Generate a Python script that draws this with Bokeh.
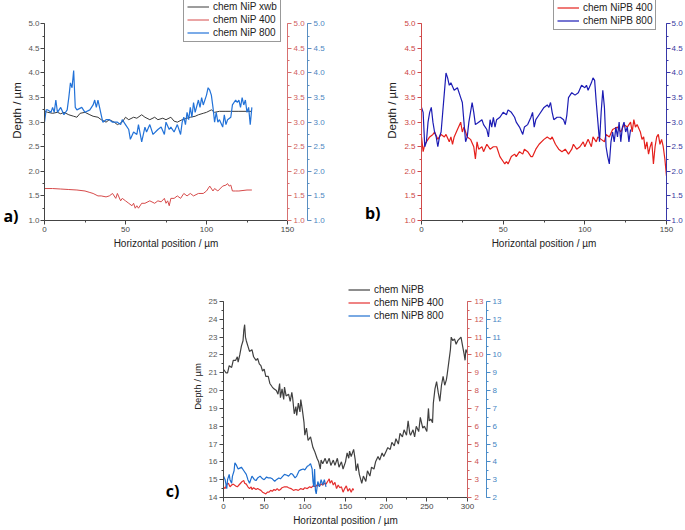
from bokeh.plotting import figure
from bokeh.models import (Range1d, LinearAxis, SingleIntervalTicker, FixedTicker, PrintfTickFormatter,
                          Legend, LegendItem, Spacer)
from bokeh.layouts import row, column
from bokeh.embed import file_html
from bokeh.resources import INLINE

FONT = "Liberation Sans"

# ---- panel a: chem NiP ----
a_xwb_x = [0, 2, 5, 8, 10, 12, 15, 18, 20, 22, 25, 28, 30, 33, 35, 38, 40, 43, 45, 48, 50, 52, 55, 57, 60,
           62, 65, 68, 70, 73, 75, 78, 80, 82, 85, 88, 90, 93, 95, 98, 100, 103, 105, 108, 112, 115, 120, 125, 128]
a_xwb_y = [3.22, 3.2, 3.18, 3.2, 3.17, 3.2, 3.15, 3.12, 3.1, 3.18, 3.2, 3.15, 3.12, 3.1, 3.05, 3.0, 3.05, 3.0,
           2.95, 3.0, 3.1, 3.05, 3.1, 3.08, 3.15, 3.1, 3.05, 3.1, 3.05, 3.08, 3.05, 3.1, 3.02, 3.0, 3.05, 3.08,
           3.1, 3.12, 3.15, 3.18, 3.2, 3.25, 3.2, 3.22, 3.22, 3.22, 3.22, 3.22, 3.22]
a_400_x = [0, 5, 10, 15, 20, 25, 28, 30, 33, 35, 38, 40, 42, 44, 45, 47, 48, 50, 52, 54, 55, 56, 57, 58, 60,
           62, 65, 68, 70, 72, 74, 75, 76, 77, 78, 80, 82, 84, 86, 88, 90, 92, 95, 98, 100, 102, 104, 105, 107,
           110, 112, 113, 114, 115, 116, 118, 120, 125, 128]
a_400_y = [1.65, 1.65, 1.64, 1.63, 1.62, 1.6, 1.57, 1.55, 1.5, 1.5, 1.48, 1.5, 1.55, 1.45, 1.55, 1.4, 1.45,
           1.4, 1.35, 1.3, 1.35, 1.25, 1.3, 1.25, 1.35, 1.35, 1.4, 1.35, 1.4, 1.38, 1.45, 1.35, 1.4, 1.3, 1.45,
           1.45, 1.5, 1.45, 1.55, 1.5, 1.55, 1.5, 1.55, 1.55, 1.6, 1.7, 1.6, 1.65, 1.6, 1.7, 1.72, 1.75, 1.7,
           1.72, 1.6, 1.6, 1.6, 1.62, 1.62]
a_800_x = [0, 1, 2, 4, 5, 6, 7, 8, 10, 12, 14, 15, 16, 17, 18, 19, 20, 23, 25, 28, 30, 31, 32, 33, 34, 35, 36,
           38, 40, 42, 45, 47, 48, 50, 52, 53, 55, 57, 58, 60, 62, 63, 65, 67, 70, 72, 74, 75, 77, 78, 80, 82,
           84, 85, 86, 87, 88, 89, 90, 91, 92, 93, 95, 96, 97, 98, 100, 101, 102, 103, 104, 105, 106, 107, 108,
           110, 111, 112, 113, 115, 116, 118, 119, 120, 121, 122, 123, 124, 125, 126, 127, 128]
a_800_y = [3.0, 3.25, 3.25, 3.2, 3.3, 3.2, 3.45, 3.2, 3.3, 3.15, 3.25, 3.5, 3.8, 3.7, 4.05, 3.3, 3.25, 3.3,
           3.2, 3.25, 3.35, 3.45, 3.3, 3.45, 3.3, 3.15, 3.0, 3.05, 3.05, 3.0, 3.0, 2.95, 3.05, 2.95, 2.85, 2.65,
           2.8, 2.75, 2.95, 2.6, 2.9, 2.8, 2.95, 2.75, 2.85, 2.9, 2.75, 3.0, 2.85, 2.9, 2.8, 2.95, 2.75, 3.0,
           3.1, 2.95, 3.2, 3.05, 3.3, 3.1, 3.4, 3.2, 3.45, 3.3, 3.5, 3.35, 3.55, 3.7, 3.65, 3.55, 3.3, 3.0, 3.2,
           3.0, 3.05, 2.9, 3.15, 2.95, 3.05, 3.1, 3.35, 3.45, 3.4, 3.45, 3.3, 3.5, 3.35, 3.45, 3.2, 3.3, 2.95, 3.3]

# ---- panel b: chem NiPB ----
b_400_x = [0, 1, 2, 3, 5, 7, 8, 10, 12, 14, 15, 17, 18, 19, 20, 22, 24, 25, 26, 27, 28, 30, 32, 33, 34, 35,
           37, 38, 40, 42, 44, 46, 48, 50, 51, 52, 53, 55, 57, 58, 60, 62, 63, 65, 67, 68, 70, 72, 75, 77, 79,
           80, 82, 84, 86, 88, 90, 92, 93, 95, 97, 99, 100, 102, 104, 105, 107, 108, 110, 112, 113, 115, 117,
           120, 122, 124, 126, 128, 129, 130, 131, 132, 134, 135, 136, 137, 138, 139, 140, 141, 142, 143, 144,
           145, 146, 147, 148, 149, 150]
b_400_y = [2.7, 2.4, 2.55, 2.6, 2.7, 2.75, 2.8, 2.65, 2.75, 2.7, 2.75, 2.6, 2.7, 2.55, 2.7, 2.85, 3.0, 2.8,
           2.9, 2.8, 2.7, 2.65, 2.5, 2.25, 2.6, 2.45, 2.5, 2.4, 2.55, 2.45, 2.5, 2.5, 2.3, 2.2, 2.15, 2.2, 2.15,
           2.3, 2.35, 2.3, 2.4, 2.35, 2.45, 2.4, 2.3, 2.3, 2.45, 2.55, 2.65, 2.7, 2.65, 2.7, 2.55, 2.45, 2.4,
           2.45, 2.35, 2.45, 2.55, 2.45, 2.5, 2.6, 2.5, 2.65, 2.5, 2.7, 2.6, 2.7, 2.65, 2.6, 2.75, 2.7, 2.85,
           2.9, 2.8, 2.95, 2.9, 3.0, 2.8, 3.05, 2.9, 2.95, 2.8, 2.65, 2.7, 2.45, 2.6, 2.35, 2.5, 2.6, 2.15, 2.5,
           2.7, 2.75, 2.55, 2.65, 2.5, 2.25, 1.9]
b_800_x = [0, 1, 2, 3, 4, 5, 6, 7, 8, 9, 10, 11, 12, 13, 14, 15, 16, 17, 18, 20, 22, 24, 25, 26, 27, 28, 29,
           30, 31, 32, 33, 35, 37, 38, 40, 41, 42, 43, 44, 45, 46, 48, 50, 52, 53, 55, 57, 58, 60, 62, 63, 65,
           67, 68, 69, 70, 72, 75, 77, 78, 79, 80, 81, 83, 85, 87, 88, 89, 90, 92, 94, 96, 98, 100, 101, 102,
           104, 105, 106, 107, 108, 109, 110, 111, 112, 113, 114, 115, 116, 117, 118, 119, 120, 121, 122, 123,
           124, 125, 126, 127, 128]
b_800_y = [3.3, 3.2, 2.5, 2.6, 3.0, 3.2, 3.3, 3.0, 2.8, 2.7, 2.5, 2.7, 2.8, 3.2, 3.6, 4.0, 3.9, 3.75, 3.8,
           3.65, 3.7, 3.5, 3.4, 3.0, 2.6, 2.7, 3.0, 3.2, 3.4, 3.2, 2.95, 3.0, 3.05, 2.95, 2.85, 2.7, 3.05, 2.9,
           3.1, 2.9, 3.05, 3.1, 3.2, 3.15, 3.25, 3.2, 3.1, 3.0, 2.9, 2.75, 2.9, 2.95, 3.1, 3.2, 2.9, 3.05, 3.15,
           3.3, 3.35, 3.3, 3.4, 3.2, 3.05, 3.1, 3.1, 3.05, 2.95, 3.15, 3.5, 3.6, 3.55, 3.6, 3.75, 3.7, 3.75, 3.65,
           3.8, 3.9, 3.85, 3.4, 3.0, 2.6, 3.2, 3.65, 3.3, 2.5, 2.3, 2.15, 2.6, 2.8, 2.6, 2.9, 2.7, 3.0, 2.6, 2.9,
           3.0, 2.8, 2.9, 2.6, 2.85]

# ---- panel c: chem NiPB (left axis) with 400 / 800 (right axes) ----
c_nipb_x = [0, 3, 5, 7, 10, 12, 15, 17, 18, 20, 22, 24, 25, 26, 27, 28, 30, 32, 35, 37, 40, 42, 44, 46, 48,
            50, 52, 55, 57, 60, 62, 65, 67, 69, 70, 72, 74, 75, 77, 80, 82, 84, 85, 87, 89, 90, 92, 94, 95, 97,
            99, 100, 102, 104, 107, 109, 110, 112, 115, 117, 119, 120, 122, 125, 127, 130, 132, 135, 137, 140,
            142, 145, 147, 150, 152, 154, 155, 157, 160, 162, 163, 165, 167, 170, 172, 175, 177, 180, 182, 185,
            187, 190, 192, 195, 197, 200, 202, 205, 207, 210, 212, 215, 217, 220, 222, 225, 227, 229, 230, 233,
            235, 237, 240, 242, 245, 247, 250, 252, 253, 255, 257, 258, 260, 262, 264, 266, 268, 270, 272, 274,
            275, 277, 279, 280, 282, 284, 286, 288, 290, 292, 294, 296, 297, 298, 300]
c_nipb_y = [21.2, 21.0, 21.0, 21.4, 21.3, 21.7, 21.7, 21.9, 21.6, 22.0, 22.5, 22.8, 23.4, 23.7, 23.0, 22.8,
            22.5, 22.2, 22.3, 21.9, 21.7, 21.8, 21.5, 21.4, 21.1, 21.2, 20.8, 20.8, 20.4, 20.2, 20.1, 20.0, 19.8,
            20.4, 19.6, 20.1, 19.5, 20.2, 19.7, 19.8, 19.4, 19.9, 19.6, 18.7, 19.1, 18.6, 19.3, 18.8, 19.5, 18.9,
            18.2, 17.5, 17.9, 17.2, 17.4, 17.0, 16.8, 16.6, 16.2, 16.0, 15.6, 16.1, 15.9, 16.2, 15.9, 16.2, 15.8,
            16.1, 15.8, 16.2, 15.7, 16.0, 15.6, 16.0, 16.5, 16.2, 16.6, 16.3, 16.7, 16.1, 15.5, 15.9, 15.3, 14.8,
            15.2, 14.9, 15.5, 15.2, 15.7, 15.6, 16.0, 16.3, 16.1, 16.5, 16.3, 16.6, 16.8, 16.7, 17.1, 16.9, 17.3,
            17.0, 17.6, 17.4, 17.8, 17.5, 18.3, 17.6, 17.5, 17.8, 17.4, 18.0, 17.7, 18.5, 17.9, 18.0, 17.7, 19.0,
            18.3, 18.4, 18.2, 19.3, 20.1, 20.5, 19.9, 19.4, 20.3, 20.8, 20.3, 20.6, 20.9, 21.6, 22.3, 23.0, 22.8,
            22.9, 22.6, 22.8, 22.9, 23.0, 22.5, 22.0, 21.7, 22.3, 22.1]
c_400_x = [0, 2, 4, 6, 8, 10, 12, 15, 17, 19, 21, 23, 25, 26, 28, 30, 32, 34, 35, 37, 40, 42, 44, 46, 48, 50,
           52, 54, 56, 58, 60, 62, 64, 66, 68, 70, 72, 75, 78, 80, 83, 86, 89, 92, 95, 98, 100, 103, 106, 108,
           110, 113, 115, 118, 120, 122, 124, 126, 128, 130, 131, 133, 135, 137, 139, 141, 143, 145, 147, 149,
           151, 153, 155, 157, 159, 160]
c_400_y = [2.6, 2.5, 2.75, 2.8, 2.6, 2.7, 2.75, 2.65, 2.6, 2.7, 2.8, 2.9, 2.95, 2.8, 2.75, 2.6, 2.5, 2.6, 2.45,
           2.55, 2.45, 2.5, 2.45, 2.4, 2.3, 2.25, 2.2, 2.3, 2.3, 2.4, 2.35, 2.45, 2.4, 2.5, 2.4, 2.45, 2.55, 2.6,
           2.6, 2.55, 2.5, 2.4, 2.45, 2.4, 2.5, 2.45, 2.55, 2.5, 2.6, 2.55, 2.65, 2.6, 2.7, 2.65, 2.75, 2.7, 2.8,
           2.75, 2.9, 3.05, 2.8, 2.95, 2.7, 2.85, 2.5, 2.7, 2.55, 2.6, 2.3, 2.5, 2.65, 2.35, 2.5, 2.3, 2.5, 2.4]
c_800_x = [0, 2, 4, 5, 7, 8, 10, 11, 13, 14, 16, 18, 20, 22, 25, 28, 30, 32, 35, 38, 40, 42, 45, 48, 50, 53,
           55, 58, 60, 63, 65, 68, 70, 73, 75, 78, 80, 83, 85, 88, 90, 93, 95, 98, 100, 103, 105, 107, 109, 110,
           111, 112, 113, 114, 116, 118, 120, 122, 124, 126]
c_800_y = [3.2, 3.0, 2.5, 3.0, 3.3, 3.0, 2.8, 3.2, 3.5, 3.95, 3.8, 3.6, 3.65, 3.7, 3.5, 3.3, 3.0, 2.8, 3.2, 3.0,
           2.95, 3.1, 3.2, 3.05, 3.0, 3.15, 3.1, 3.1, 3.05, 2.9, 3.0, 3.1, 3.05, 3.2, 3.3, 3.25, 3.2, 3.35, 3.3,
           3.1, 3.2, 3.5, 3.55, 3.6, 3.55, 3.75, 3.8, 3.9, 3.6, 2.9, 2.6, 3.6, 2.4, 2.2, 2.9, 2.6, 3.0, 2.7, 3.0,
           2.6]


def style_axis(ax, color, text_color, interval, fmt=None, bounds=None):
    ax.ticker = SingleIntervalTicker(interval=interval, num_minor_ticks=2)
    if fmt:
        ax.formatter = PrintfTickFormatter(format=fmt)
    if bounds:
        ax.bounds = bounds
    ax.axis_line_color = color
    ax.major_tick_line_color = color
    ax.minor_tick_line_color = color
    ax.major_tick_out = 4
    ax.major_tick_in = 0
    ax.minor_tick_out = 2
    ax.minor_tick_in = 0
    ax.major_label_text_color = text_color
    ax.major_label_text_font = FONT
    ax.major_label_text_font_size = "8px"
    ax.major_label_standoff = 2
    ax.axis_label_text_font = FONT
    ax.axis_label_text_font_size = "10px"
    ax.axis_label_text_font_style = "normal"
    ax.axis_label_text_color = "#222222"
    ax.axis_label_standoff = 3


def make_fig(w, h, xr, yr, bl, br, bt, bb):
    p = figure(width=w, height=h, x_range=xr, y_range=yr, output_backend="svg",
               toolbar_location=None, min_border_left=bl, min_border_right=br,
               min_border_top=bt, min_border_bottom=bb)
    p.outline_line_color = None
    p.xgrid.visible = False
    p.ygrid.visible = False
    p.xaxis.axis_label = "Horizontal position / \u00b5m"
    p.yaxis.axis_label = "Depth / \u00b5m"
    return p


def make_legend(items, loc, border=True):
    lg = Legend(items=items, location=loc, orientation="vertical")
    lg.label_text_font = FONT
    lg.label_text_font_size = "10px"
    lg.label_text_color = "#222222"
    lg.glyph_width = 22
    lg.glyph_height = 11
    lg.label_height = 11
    lg.label_standoff = 4
    lg.spacing = 2
    lg.padding = 3
    lg.margin = 0
    lg.background_fill_alpha = 1
    lg.border_line_color = "#333333" if border else None
    lg.border_line_width = 1
    return lg


def add_tag(p, text, yval, standoff):
    # panel letter drawn as the single label of an outer, invisible left axis
    ax = LinearAxis(ticker=FixedTicker(ticks=[yval]), major_label_overrides={yval: text})
    ax.axis_line_color = None
    ax.major_tick_line_color = None
    ax.minor_tick_line_color = None
    ax.major_tick_out = 0
    ax.major_tick_in = 0
    ax.major_label_standoff = standoff
    ax.axis_label_standoff = 0
    ax.major_label_text_font = "Open Sans"
    ax.major_label_text_font_style = "bold"
    ax.major_label_text_font_size = "16px"
    ax.major_label_text_color = "black"
    p.add_layout(ax, "left")


# panel a  (frame reaches the top of the figure so the legend is not cut)
fa = make_fig(343, 252, Range1d(0, 150), Range1d(1, 5.474), 44, 56, 0, 32)
style_axis(fa.xaxis[0], "#444444", "#444444", 50)
style_axis(fa.yaxis[0], "#444444", "#555555", 0.5, "%.1f", (1, 5))
fa.yaxis[0].major_label_standoff = 1
fa.yaxis[0].axis_label_standoff = 2
fa.yaxis[0].axis_label_text_font_size = "11.5px"
fa.extra_y_ranges = {"red": Range1d(1, 5.474), "blue": Range1d(1, 5.474)}
ax_ar = LinearAxis(y_range_name="red")
style_axis(ax_ar, "#d77070", "#cf6060", 0.5, "%.1f", (1, 5))
fa.add_layout(ax_ar, "right")
ax_ab = LinearAxis(y_range_name="blue")
style_axis(ax_ab, "#5a8fc2", "#4d86bf", 0.5, "%.1f", (1, 5))
fa.add_layout(ax_ab, "right")
ra1 = fa.line(a_xwb_x, a_xwb_y, color="#3a3a3a", line_width=1)
ra2 = fa.line(a_400_x, a_400_y, color="#d64a4a", line_width=1, y_range_name="red")
ra3 = fa.line(a_800_x, a_800_y, color="#2272d8", line_width=1.2, y_range_name="blue")
fa.add_layout(make_legend([LegendItem(label="chem NiP xwb", renderers=[ra1]),
                           LegendItem(label="chem NiP 400", renderers=[ra2]),
                           LegendItem(label="chem NiP 800", renderers=[ra3])], (139, 178)), "center")
add_tag(fa, "a)", 1.1, -10)

# panel b
fb = make_fig(342, 252, Range1d(0, 150), Range1d(1, 5.474), 78, 19, 0, 32)
style_axis(fb.xaxis[0], "#444444", "#444444", 50)
style_axis(fb.yaxis[0], "#d04a4a", "#cc4444", 0.5, "%.1f", (1, 5))
fb.yaxis[0].axis_label_text_font_size = "11.5px"
fb.extra_y_ranges = {"blue": Range1d(1, 5.474)}
ax_bb = LinearAxis(y_range_name="blue")
style_axis(ax_bb, "#3838a8", "#3838a0", 0.5, "%.1f", (1, 5))
ax_bb.major_label_standoff = 1
fb.add_layout(ax_bb, "right")
rb1 = fb.line(b_400_x, b_400_y, color="#e5201c", line_width=1.2)
rb2 = fb.line(b_800_x, b_800_y, color="#1c1cb4", line_width=1.2, y_range_name="blue")
fb.add_layout(make_legend([LegendItem(label="chem NiPB 400", renderers=[rb1]),
                           LegendItem(label="chem NiPB 800", renderers=[rb2])], (132, 190)), "center")
add_tag(fb, "b)", 1.15, 3)

# panel c
fc = make_fig(380, 276, Range1d(0, 300), Range1d(14, 26.46), 73, 63, 23, 31)
style_axis(fc.xaxis[0], "#444444", "#444444", 50)
style_axis(fc.yaxis[0], "#444444", "#555555", 1, None, (14, 25))
fc.yaxis[0].axis_label_text_font_size = "9.5px"
fc.extra_y_ranges = {"red": Range1d(2, 14.46), "blue": Range1d(2, 14.46)}
ax_cr = LinearAxis(y_range_name="red")
style_axis(ax_cr, "#d06060", "#cc5555", 1, None, (2, 13))
ax_cr.major_label_standoff = 3
fc.add_layout(ax_cr, "right")
ax_cb = LinearAxis(y_range_name="blue")
style_axis(ax_cb, "#4a8cc8", "#4585c2", 1, None, (2, 13))
fc.add_layout(ax_cb, "right")
rc1 = fc.line(c_nipb_x, c_nipb_y, color="#404040", line_width=1.2)
rc2 = fc.line(c_400_x, c_400_y, color="#e53030", line_width=1.2, y_range_name="red")
rc3 = fc.line(c_800_x, c_800_y, color="#1f6fd0", line_width=1.2, y_range_name="blue")
fc.add_layout(make_legend([LegendItem(label="chem NiPB", renderers=[rc1]),
                           LegendItem(label="chem NiPB 400", renderers=[rc2]),
                           LegendItem(label="chem NiPB 800", renderers=[rc3])], (125, 176), border=False), "center")
add_tag(fc, "c)", 14.38, 9)

p = column(row(fa, fb), row(Spacer(width=150, height=276), fc))
open("out.html", "w").write(file_html(p, INLINE))
